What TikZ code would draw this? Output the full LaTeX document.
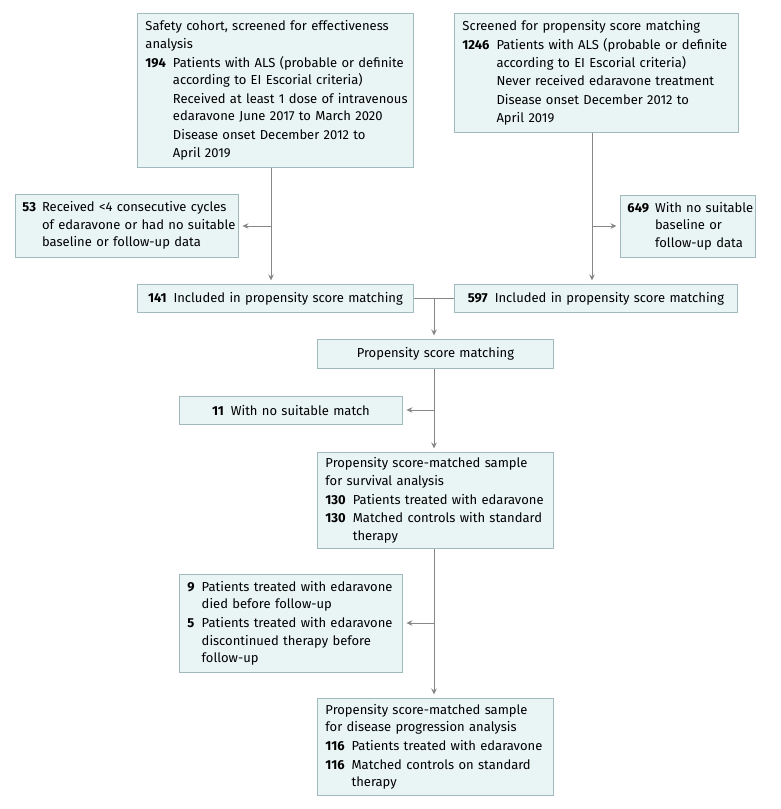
\documentclass[tikz,border=0pt]{standalone}
\usepackage{fontspec}
\setmainfont{Fira Sans}
\usetikzlibrary{arrows.meta}
\definecolor{boxfill}{RGB}{233,244,244}
\definecolor{boxline}{RGB}{160,186,189}
\definecolor{conn}{RGB}{135,135,135}
\begin{document}
\begin{tikzpicture}[x=1pt,y=-1pt,
  box/.style={draw=boxline, fill=boxfill, line width=0.9pt, rectangle, inner xsep=8pt, inner ysep=3pt, align=left, anchor=north west, font=\fontsize{13}{17.5}\selectfont},
  cbox/.style={box, align=center},
  conline/.style={draw=conn, line width=0.9pt},
  arr/.style={conline, -{Stealth[length=6pt,width=5.5pt]}, shorten >=3.5pt}]
\useasboundingbox (0,0) rectangle (780,809);

\node[box, text width=260pt, minimum height=154pt] (b1) at (137,13)
{\begin{tabular}{@{}l@{\hspace{7pt}}l@{}}
\multicolumn{2}{@{}l@{}}{Safety cohort, screened for effectiveness}\\
\multicolumn{2}{@{}l@{}}{analysis}\\[1.3pt]
\textbf{194} & Patients with ALS (probable or definite\\
 & according to EI Escorial criteria)\\[1.3pt]
 & Received at least 1 dose of intravenous\\
 & edaravone June 2017 to March 2020\\[1.3pt]
 & Disease onset December 2012 to\\
 & April 2019
\end{tabular}};

\node[box, text width=268pt, minimum height=119pt] (b2) at (454,13)
{\begin{tabular}{@{}l@{\hspace{7pt}}l@{}}
\multicolumn{2}{@{}l@{}}{Screened for propensity score matching}\\[1.3pt]
\textbf{1246} & Patients with ALS (probable or definite\\
 & according to EI Escorial criteria)\\[1.3pt]
 & Never received edaravone treatment\\[1.3pt]
 & Disease onset December 2012 to\\
 & April 2019
\end{tabular}};

\node[box, inner xsep=7pt, text width=209pt, minimum height=63pt] (b53) at (15,194)
{\begin{tabular}{@{}l@{\hspace{6pt}}l@{}}
\textbf{53} & Received <4 consecutive cycles\\
 & of edaravone or had no suitable\\
 & baseline or follow-up data
\end{tabular}};

\node[box, inner xsep=7pt, text width=121pt, minimum height=62pt] (b649) at (620,195)
{\begin{tabular}{@{}l@{\hspace{6pt}}l@{}}
\textbf{649} & With no suitable\\
 & baseline or\\
 & follow-up data
\end{tabular}};

\node[cbox, text width=260pt, minimum height=28pt] (b141) at (137,284)
{\mbox{\textbf{141}\hspace{7pt}Included in propensity score matching}};

\node[cbox, text width=267pt, minimum height=28pt] (b597) at (454,284)
{\mbox{\textbf{597}\hspace{7pt}Included in propensity score matching}};

\node[cbox, text width=220pt, minimum height=29pt] (psm) at (317,339)
{\mbox{Propensity score matching}};

\node[cbox, text width=207pt, minimum height=28pt] (b11) at (179,396)
{\mbox{\textbf{11}\hspace{7pt}With no suitable match}};

\node[box, text width=220pt, minimum height=96pt] (surv) at (317,452)
{\begin{tabular}{@{}l@{\hspace{7pt}}l@{}}
\multicolumn{2}{@{}l@{}}{Propensity score-matched sample}\\
\multicolumn{2}{@{}l@{}}{for survival analysis}\\[1.3pt]
\textbf{130} & Patients treated with edaravone\\[1.3pt]
\textbf{130} & Matched controls with standard\\
 & therapy
\end{tabular}};

\node[box, text width=207pt, minimum height=98pt] (b95) at (179,574)
{\begin{tabular}{@{}l@{\hspace{7pt}}l@{}}
\textbf{9} & Patients treated with edaravone\\
 & died before follow-up\\[1.3pt]
\textbf{5} & Patients treated with edaravone\\
 & discontinued therapy before\\
 & follow-up
\end{tabular}};

\node[box, text width=220pt, minimum height=97pt] (dis) at (317,698)
{\begin{tabular}{@{}l@{\hspace{7pt}}l@{}}
\multicolumn{2}{@{}l@{}}{Propensity score-matched sample}\\
\multicolumn{2}{@{}l@{}}{for disease progression analysis}\\[1.3pt]
\textbf{116} & Patients treated with edaravone\\[1.3pt]
\textbf{116} & Matched controls on standard\\
 & therapy
\end{tabular}};

% connectors
\coordinate (j1) at (271,226);
\coordinate (j2) at (592,226);
\coordinate (j3) at (434,298);
\coordinate (j4) at (434,410);
\coordinate (j5) at (434,623);

\draw[arr] (b1.south -| j1) -- (b141.north -| j1);
\draw[arr] (j1) -- (b53.east |- j1);
\draw[arr] (b2.south -| j2) -- (b597.north -| j2);
\draw[arr] (j2) -- (b649.west |- j2);
\draw[conline] (b141.east |- j3) -- (b597.west |- j3);
\draw[arr] (j3) -- (psm.north -| j3);
\draw[arr] (psm.south -| j4) -- (surv.north -| j4);
\draw[arr] (j4) -- (b11.east |- j4);
\draw[arr] (surv.south -| j5) -- (dis.north -| j5);
\draw[arr] (j5) -- (b95.east |- j5);
\end{tikzpicture}
\end{document}
